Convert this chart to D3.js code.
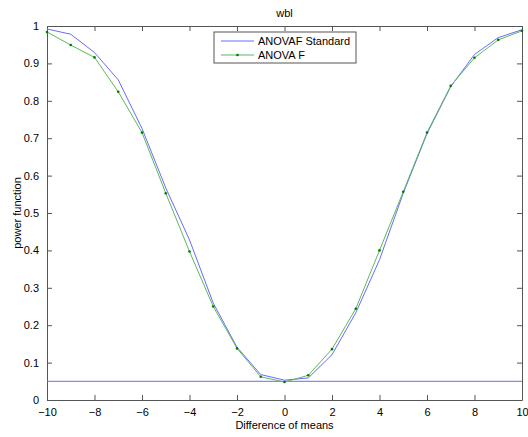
<!DOCTYPE html>
<html>
<head>
<meta charset="utf-8">
<script src="https://cdn.jsdelivr.net/npm/d3@7"></script>
<style>
  body { margin: 0; background: #fff; }
  svg { font-family: "Liberation Sans", Arial, sans-serif; }
</style>
</head>
<body>
<div id="chart"></div>
<script>
const diffs = [-10, -9, -8, -7, -6, -5, -4, -3, -2, -1, 0, 1, 2, 3, 4, 5, 6, 7, 8, 9, 10];
const anovafStandard = [0.992, 0.978, 0.929, 0.856, 0.726, 0.567, 0.428, 0.259, 0.141, 0.068, 0.053,
                        0.059, 0.121, 0.233, 0.375, 0.553, 0.712, 0.838, 0.924, 0.969, 0.990];
const anovaF = [0.984, 0.949, 0.916, 0.824, 0.715, 0.553, 0.397, 0.250, 0.138, 0.062, 0.048,
                0.066, 0.136, 0.244, 0.400, 0.557, 0.715, 0.840, 0.915, 0.963, 0.987];
const alphaLevel = 0.05;
const xTicks = [-10, -8, -6, -4, -2, 0, 2, 4, 6, 8, 10];
const yTicks = [0, 0.1, 0.2, 0.3, 0.4, 0.5, 0.6, 0.7, 0.8, 0.9, 1];

const W = 528, H = 437;
const margin = {top: 26, right: 6, bottom: 37, left: 47},
      width = W - margin.left - margin.right,
      height = H - margin.top - margin.bottom;

const svg = d3.select("#chart").append("svg")
  .attr("width", W).attr("height", H);
const g = svg.append("g")
  .attr("transform", "translate(" + margin.left + "," + margin.top + ")");

const x = d3.scaleLinear().domain([-10, 10]).range([0, width]);
const y = d3.scaleLinear().domain([0, 1]).range([height, 0]);

const fmt = d => d3.format("")(+d.toFixed(1));
const axisColor = "#555";

// axes with inward ticks, box style
g.append("g").attr("transform", "translate(0," + height + ")")
  .call(d3.axisBottom(x).tickValues(xTicks).tickSizeInner(-5).tickSizeOuter(0).tickPadding(8).tickFormat(fmt));
g.append("g")
  .call(d3.axisTop(x).tickValues(xTicks).tickSizeInner(-5).tickSizeOuter(0).tickFormat(""));
g.append("g")
  .call(d3.axisLeft(y).tickValues(yTicks).tickSizeInner(-5).tickSizeOuter(0).tickPadding(8).tickFormat(fmt));
g.append("g").attr("transform", "translate(" + width + ",0)")
  .call(d3.axisRight(y).tickValues(yTicks).tickSizeInner(-5).tickSizeOuter(0).tickFormat(""));

g.selectAll(".domain").attr("stroke", axisColor);
g.selectAll(".tick line").attr("stroke", axisColor);
g.selectAll(".tick text").attr("fill", "#000").style("font-size", "11px");

const line = d3.line()
  .x((d, i) => x(diffs[i]))
  .y(d => y(d));

// alpha reference line
g.append("line")
  .attr("x1", x(-10)).attr("x2", x(10))
  .attr("y1", y(alphaLevel)).attr("y2", y(alphaLevel))
  .attr("stroke", "#6a6aff").attr("stroke-width", 1);

g.append("path").datum(anovafStandard)
  .attr("fill", "none").attr("stroke", "#6a6aff").attr("stroke-width", 1)
  .attr("d", line);

g.append("path").datum(anovaF)
  .attr("fill", "none").attr("stroke", "#5cb85c").attr("stroke-width", 1)
  .attr("d", line);

g.selectAll(".dot").data(anovaF).enter().append("circle")
  .attr("class", "dot")
  .attr("cx", (d, i) => x(diffs[i])).attr("cy", d => y(d))
  .attr("r", 1.3).attr("fill", "#007a00");

// titles
svg.append("text").attr("x", margin.left + width / 2).attr("y", 17)
  .attr("text-anchor", "middle").style("font-size", "11px").text("wbl");
svg.append("text").attr("x", margin.left + width / 2).attr("y", 429)
  .attr("text-anchor", "middle").style("font-size", "11px").text("Difference of means");
svg.append("text")
  .attr("transform", "translate(21," + (margin.top + height / 2) + ") rotate(-90)")
  .attr("text-anchor", "middle").style("font-size", "11px").text("power function");

// legend
const leg = svg.append("g").attr("transform", "translate(214,32)");
leg.append("rect").attr("width", 142).attr("height", 31)
  .attr("fill", "#fff").attr("stroke", axisColor);
const items = [
  {name: "ANOVAF Standard", color: "#6a6aff", dot: false},
  {name: "ANOVA F", color: "#5cb85c", dot: true}
];
items.forEach((it, i) => {
  const yy = 9 + i * 14;
  leg.append("line").attr("x1", 7).attr("x2", 40).attr("y1", yy).attr("y2", yy)
    .attr("stroke", it.color);
  if (it.dot) leg.append("circle").attr("cx", 23.5).attr("cy", yy).attr("r", 1.3).attr("fill", "#007a00");
  leg.append("text").attr("x", 44).attr("y", yy + 4).style("font-size", "11px").text(it.name);
});
</script>
</body>
</html>
